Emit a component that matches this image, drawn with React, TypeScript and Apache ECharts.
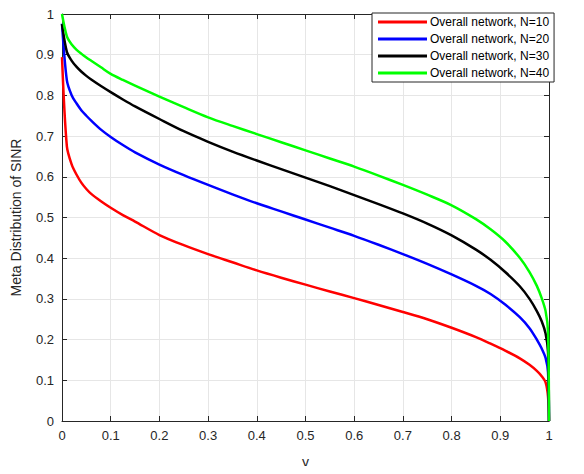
import React, { useEffect, useRef } from "react";
import * as echarts from "echarts";

const xs = [0, 0.01, 0.02, 0.03, 0.04, 0.05, 0.06, 0.08, 0.1, 0.125, 0.15, 0.2, 0.25, 0.3, 0.35, 0.4, 0.45, 0.5, 0.55, 0.6, 0.65, 0.7, 0.75, 0.8, 0.85, 0.88, 0.91, 0.94, 0.96, 0.975, 0.985, 0.993, 0.998, 1];
const n10 = [0.894, 0.675, 0.63, 0.605, 0.585, 0.57, 0.558, 0.54, 0.524, 0.506, 0.49, 0.457, 0.432, 0.41, 0.39, 0.37, 0.352, 0.335, 0.318, 0.302, 0.285, 0.268, 0.25, 0.229, 0.206, 0.19, 0.173, 0.154, 0.138, 0.123, 0.11, 0.095, 0.06, 0];
const n20 = [0.976, 0.837, 0.8, 0.78, 0.763, 0.75, 0.738, 0.716, 0.698, 0.678, 0.66, 0.63, 0.604, 0.58, 0.557, 0.535, 0.515, 0.495, 0.475, 0.455, 0.433, 0.41, 0.386, 0.36, 0.332, 0.312, 0.286, 0.255, 0.228, 0.2, 0.178, 0.155, 0.12, 0];
const n30 = [0.975, 0.907, 0.885, 0.87, 0.858, 0.848, 0.839, 0.823, 0.808, 0.79, 0.773, 0.742, 0.712, 0.686, 0.662, 0.64, 0.619, 0.598, 0.577, 0.555, 0.533, 0.51, 0.485, 0.456, 0.421, 0.396, 0.366, 0.331, 0.3, 0.27, 0.245, 0.215, 0.17, 0];
const n40 = [1.0, 0.945, 0.925, 0.912, 0.902, 0.893, 0.885, 0.869, 0.853, 0.838, 0.824, 0.797, 0.771, 0.746, 0.725, 0.705, 0.685, 0.665, 0.645, 0.625, 0.603, 0.58, 0.556, 0.53, 0.496, 0.471, 0.441, 0.401, 0.366, 0.332, 0.302, 0.27, 0.22, 0];
const names = ["Overall network, N=10", "Overall network, N=20", "Overall network, N=30", "Overall network, N=40"];
const colors = ["#ff0000", "#0000ff", "#000000", "#00ff00"];
const seriesValues = [n10, n20, n30, n40];

const FONT = "Liberation Sans, Arial, Helvetica, sans-serif";
const AX = "#262626";

export default function App() {
  const ref = useRef<HTMLDivElement>(null);
  useEffect(() => {
    const chart = echarts.init(ref.current!, null, { renderer: "svg" });
    const base = {
      type: "value", min: 0, max: 1, interval: 0.1,
      axisLine: { show: true, onZero: false, lineStyle: { color: AX, width: 1 } },
      axisTick: { show: true, inside: true, length: 5, lineStyle: { color: AX } },
      splitLine: { show: false },
    };
    const label = { color: AX, fontSize: 13, fontFamily: FONT, margin: 8, formatter: (v: number) => String(Math.round(v * 10) / 10) };
    chart.setOption({
      animation: false,
      backgroundColor: "#ffffff",
      textStyle: { fontFamily: FONT },
      grid: { left: 62, right: 35, top: 14, bottom: 50, containLabel: false },
      xAxis: [
        {
          ...base, position: "bottom",
          splitLine: { show: true, lineStyle: { color: "#e6e6e6", width: 1 } },
          axisLabel: label,
          name: "y", nameLocation: "middle", nameGap: 34,
          nameTextStyle: { color: AX, fontSize: 14, fontFamily: FONT },
        },
        { ...base, position: "top", axisLabel: { show: false } },
      ],
      yAxis: [
        {
          ...base, position: "left",
          splitLine: { show: true, lineStyle: { color: "#e6e6e6", width: 1 } },
          axisLabel: label,
          name: "Meta Distribution of SINR", nameLocation: "middle", nameGap: 39,
          nameTextStyle: { color: AX, fontSize: 14, fontFamily: FONT },
        },
        { ...base, position: "right", axisLabel: { show: false } },
      ],
      legend: {
        orient: "vertical",
        left: 372, top: 13,
        backgroundColor: "#ffffff",
        borderColor: AX, borderWidth: 1,
        padding: [2, 5, 2, 6],
        itemGap: 3,
        itemWidth: 49, itemHeight: 3,
        icon: "rect",
        textStyle: { color: "#000000", fontSize: 12, fontFamily: FONT, lineHeight: 14, padding: [0, 0, 0, -2] },
        data: names,
      },
      series: seriesValues.map((vals, i) => ({
        name: names[i],
        type: "line",
        data: xs.map((x, j) => [x, vals[j]]),
        showSymbol: false,
        smooth: 0.3,
        lineStyle: { color: colors[i], width: 2.5, join: "round" },
        itemStyle: { color: colors[i] },
        z: 3 + i,
      })),
    });
    return () => chart.dispose();
  }, []);
  return <div ref={ref} style={{ width: 584, height: 474, margin: -8 }} />;
}
